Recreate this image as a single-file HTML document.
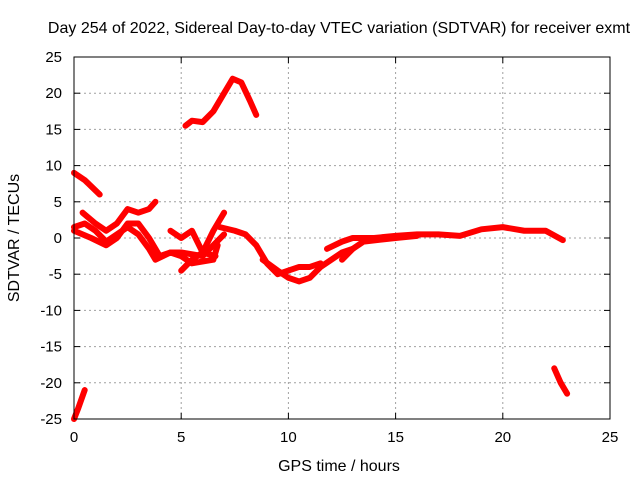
<!DOCTYPE html>
<html><head><meta charset="utf-8"><style>
body{margin:0;background:#fff}
svg{display:block;font-family:"Liberation Sans",sans-serif}
</style></head><body>
<svg id="chart" width="640" height="480">
<text x="339" y="33" font-size="16" text-anchor="middle">Day 254 of 2022, Sidereal Day-to-day VTEC variation (SDTVAR) for receiver exmt</text>
<text x="339" y="471" font-size="16" text-anchor="middle">GPS time / hours</text>
<text x="19" y="238" font-size="16" text-anchor="middle" transform="rotate(-90 19 238)">SDTVAR / TECUs</text>
<g id="grid"></g><g id="series"></g>
<rect x="74" y="57" width="536" height="362" fill="none" stroke="#000" stroke-width="1"/>
</svg>
<script>
const xTicks=[0,5,10,15,20,25];
const yTicks=[25,20,15,10,5,0,-5,-10,-15,-20,-25];
const sA=[[0,9],[0.5,8],[1.2,6]];
const sB=[[5.2,15.5],[5.5,16.2],[6,16],[6.5,17.5],[7,20],[7.4,22],[7.8,21.5],[8.2,19],[8.5,17]];
const sC=[[0,-25],[0.2,-23.5],[0.5,-21]];
const sD=[[22.4,-18],[22.7,-20],[23,-21.5]];
const sE=[[0,1.5],[0.5,2],[1,1],[1.5,-0.5],[2,0.5],[2.5,1.5],[3,0.5],[3.5,-1.5],[3.8,-3],[4.5,-2],[5,-2],[6,-2.5],[6.5,-1],[7,0.5]];
const sF=[[0.4,3.5],[1,2],[1.5,1],[2,2],[2.5,4],[3,3.5],[3.5,4],[3.8,5]];
const sG=[[0,1],[0.8,0],[1.5,-1],[2,0],[2.5,2],[3,2],[3.5,0],[4,-2.5],[4.5,-2],[5,-2.5],[5.5,-3.5],[6.5,-3],[6.7,-1]];
const sH=[[4.5,1],[5,0],[5.5,1],[6,-2],[6.5,1],[7,3.5]];
const sI=[[5,-4.5],[5.5,-3],[6,-2],[6.6,-2.5]];
const sJ=[[6.8,1.5],[7.5,1],[8,0.5],[8.5,-1],[9,-3.5],[9.5,-5],[10,-4.5],[10.5,-4],[11,-4],[11.5,-3.5]];
const sK=[[8.8,-3],[9.5,-4.5],[10,-5.5],[10.5,-6],[11,-5.5],[11.5,-4],[12,-3],[12.5,-2],[13,-1.5]];
const sL=[[11.8,-1.5],[12.5,-0.5],[13,0],[14,0],[15,0.3],[16,0.5],[17,0.5],[18,0.3],[19,1.2],[20,1.5],[21,1],[22,1],[22.8,-0.3]];
const sM=[[12.5,-3],[13,-1.5],[13.5,-0.5],[15,0],[16,0.3]];
const allSeries=[sA,sB,sC,sD,sE,sF,sG,sH,sI,sJ,sK,sL,sM];
const X=v=>74+v*536/25, Y=v=>238-v*362/50;
const NS='http://www.w3.org/2000/svg';
const g=document.getElementById('grid'), s=document.getElementById('series');
function mk(t,a,p){const e=document.createElementNS(NS,t);for(const k in a)e.setAttribute(k,a[k]);p.appendChild(e);return e;}
xTicks.forEach(t=>{
 if(t>0&&t<25){const l=mk('line',{x1:X(t),x2:X(t),y1:57,y2:419,stroke:'#a0a0a0','stroke-dasharray':'2,3'},g);
 
 }
 mk('line',{x1:X(t),x2:X(t),y1:419,y2:413,stroke:'#000'},g);mk('line',{x1:X(t),x2:X(t),y1:57,y2:63,stroke:'#000'},g);
 const tx=mk('text',{x:X(t),y:442,'font-size':15,'text-anchor':'middle'},g);tx.textContent=t;
 
 
});
yTicks.forEach(t=>{
 if(t>-25&&t<25){const l=mk('line',{x1:74,x2:610,y1:Y(t),y2:Y(t),stroke:'#a0a0a0','stroke-dasharray':'2,3'},g);
 
 }
 mk('line',{x1:74,x2:80,y1:Y(t),y2:Y(t),stroke:'#000'},g);mk('line',{x1:604,x2:610,y1:Y(t),y2:Y(t),stroke:'#000'},g);
 const tx=mk('text',{x:62,y:Y(t)+5,'font-size':15,'text-anchor':'end'},g);tx.textContent=t;
 
 
});
allSeries.forEach(ser=>{
 const p=mk('polyline',{points:ser.map(d=>X(d[0])+','+Y(d[1])).join(' '),fill:'none',stroke:'#ff0000','stroke-width':6,'stroke-linejoin':'round','stroke-linecap':'round'},s);
 
 
});
</script>
</body></html>
